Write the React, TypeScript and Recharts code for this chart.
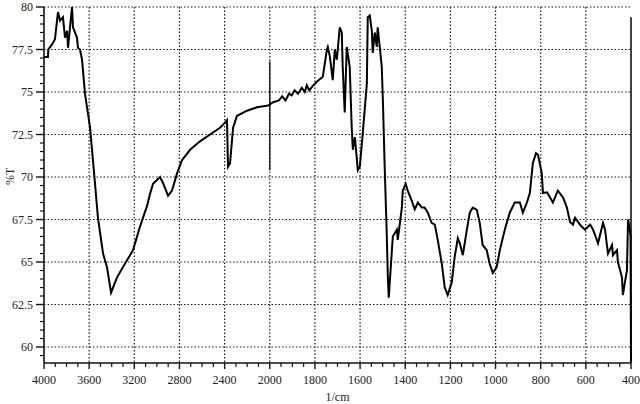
import React from 'react';
import { LineChart, Line, XAxis, YAxis, CartesianGrid, ReferenceLine } from 'recharts';

// IR spectrum (wavenumber in 1/cm, transmittance in %T)
const wavenumbers = [
  4000, 3965, 3962, 3929, 3903, 3876, 3858, 3832, 3814, 3796, 3787, 3752, 3743, 3708, 3699, 3681,
  3663, 3637, 3592, 3548, 3522, 3477, 3442, 3406, 3353, 3300, 3211, 3149, 3087, 3061, 3034, 2972,
  2946, 2901, 2866, 2822, 2777, 2706, 2618, 2529, 2441, 2396, 2379, 2370, 2352, 2325, 2290, 2201,
  2113, 2015, 1985, 1960, 1945, 1930, 1915, 1903, 1890, 1875, 1858, 1845, 1836, 1825, 1810, 1792,
  1765, 1747, 1743, 1734, 1721, 1712, 1703, 1690,
  1681, 1677, 1668, 1659, 1646, 1637, 1632, 1623, 1610, 1601, 1588, 1570, 1566, 1557, 1548, 1544,
  1535, 1526, 1522, 1513, 1504, 1499, 1491, 1482, 1477, 1473, 1460, 1455, 1437, 1433, 1415, 1411,
  1398, 1389, 1371, 1358, 1344, 1327, 1314, 1300, 1283, 1269, 1256, 1238, 1225, 1212, 1194, 1181,
  1167, 1158, 1145, 1127, 1114, 1101, 1083, 1070, 1057, 1039, 1026, 1012, 995, 981, 959, 937,
  915, 892, 879, 861, 848, 835, 821, 812, 795, 790, 772, 746, 724, 701, 684, 670,
  657, 648, 626, 604, 581, 568, 546, 524, 515, 502, 484, 480, 462, 458, 440, 436,
  427, 418, 413, 405, 402, 400,
];

const transmittance = [
  77.06, 77.06, 77.5, 77.8, 78.1, 79.7, 79.2, 79.4, 78.2, 78.6, 77.6, 80.0, 78.8, 78.2, 77.6, 77.5,
  76.9, 74.9, 72.9, 69.6, 67.6, 65.5, 64.7, 63.2, 64.1, 64.7, 65.7, 67.1, 68.3, 69.0, 69.6, 70.0,
  69.65, 68.9, 69.2, 70.2, 71.0, 71.6, 72.1, 72.5, 72.9, 73.2, 73.35, 70.6, 70.8, 72.9, 73.6, 73.9,
  74.1, 74.2, 74.4, 74.5, 74.75, 74.5, 74.9, 74.8, 75.1, 74.9, 75.25, 75.0, 75.4, 75.1, 75.35, 75.6,
  75.9, 77.5, 77.65, 77.1, 75.7, 77.5, 76.9, 78.8,
  78.5, 76.5, 73.8, 77.65, 76.5, 72.9, 71.6, 72.35, 70.4, 70.6, 72.6, 75.5, 79.4, 79.5, 78.6, 77.3,
  78.5, 77.65, 78.8, 77.65, 76.5, 74.5, 70.6, 66.7, 64.1, 62.9, 65.5, 66.5, 66.9, 66.3, 68.2, 69.2,
  69.6, 69.2, 68.6, 68.1, 68.5, 68.2, 68.2, 67.9, 67.3, 67.2, 66.3, 64.9, 63.5, 63.06, 63.8, 65.3,
  66.4, 66.1, 65.4, 66.9, 67.9, 68.2, 68.06, 67.3, 66.0, 65.7, 64.9, 64.35, 64.7, 65.7, 66.9, 67.9,
  68.5, 68.5, 67.9, 68.5, 69.06, 70.8, 71.4, 71.3, 70.2, 69.06, 69.1, 68.5, 69.2, 68.8, 68.2, 67.35,
  67.2, 67.6, 67.2, 66.9, 67.2, 66.9, 66.1, 67.3, 66.9, 65.5, 66.0, 65.4, 65.7, 65.0, 64.1, 63.06,
  63.8, 64.5, 67.5, 66.9, 66.5, 59.1,
];

const xTickLabels = [4000, 3600, 3200, 2800, 2400, 2000, 1800, 1600, 1400, 1200, 1000, 800, 600, 400];
const yTickLabels = [60, 62.5, 65, 67.5, 70, 72.5, 75, 77.5, 80];

// the instrument's axis changes scale at 2000 1/cm (left half compressed 2x)
const toPos = (wn: number) => (wn >= 2000 ? (4000 - wn) / 2 : 1000 + (2000 - wn));
const fromPos = (u: number) => (u <= 1000 ? 4000 - 2 * u : 2000 - (u - 1000));

const data = wavenumbers.map((wn, i) => ({ pos: toPos(wn), t: transmittance[i] }));

const xMajor = xTickLabels.map(toPos);
const xMinor: number[] = [];
for (let u = 0; u <= 2600; u += 50) xMinor.push(u);
const yMinor: number[] = [];
for (let v = 59.5; v <= 80; v += 0.5) yMinor.push(v);

const font = '"Liberation Serif", "DejaVu Serif", serif';

const XTick = ({ x, y, payload }: any) => {
  const major = xMajor.includes(payload.value);
  return (
    <g>
      <line x1={x} x2={x} y1={y} y2={y + (major ? 6 : 4)} stroke="#111" strokeWidth={major ? 1.4 : 1.2} />
      {major && (
        <text x={x} y={y + 21} textAnchor="middle" fontSize={12} fontFamily={font} fill="#222">
          {fromPos(payload.value)}
        </text>
      )}
    </g>
  );
};

const YTick = ({ x, y, payload }: any) => {
  const major = yTickLabels.some((v) => Math.abs(v - payload.value) < 0.01);
  return (
    <g>
      <line x1={x - (major ? 8 : 4)} x2={x} y1={y} y2={y} stroke="#111" strokeWidth={major ? 1.4 : 1.2} />
      {major && (
        <text x={x - 11} y={y + 4} textAnchor="end" fontSize={12} fontFamily={font} fill="#222">
          {payload.value}
        </text>
      )}
    </g>
  );
};

export default function App() {
  return (
    <div style={{ position: 'absolute', left: 0, top: 0, background: '#fff' }}>
      <LineChart width={640} height={404} data={data} margin={{ top: 7, right: 9, bottom: 0, left: 8 }}>
        <CartesianGrid
          stroke="#1a1a1a"
          strokeDasharray="1.5 2"
          strokeWidth={1.2}
          horizontalValues={yTickLabels}
          verticalValues={xMajor.slice(1, -1)}
        />
        <XAxis
          dataKey="pos"
          type="number"
          domain={[0, 2600]}
          ticks={xMinor}
          interval={0}
          height={41}
          tickSize={0}
          tickMargin={0}
          tickLine={false}
          tick={<XTick />}
          axisLine={{ stroke: '#111', strokeWidth: 1.6 }}
          label={{ value: '1/cm', position: 'insideBottom', offset: 3, fontSize: 12, fontFamily: font, fill: '#222' }}
        />
        <YAxis
          type="number"
          domain={[59.06, 80]}
          ticks={yMinor}
          interval={0}
          width={36}
          tickSize={0}
          tickMargin={0}
          tickLine={false}
          tick={<YTick />}
          axisLine={{ stroke: '#111', strokeWidth: 1.6 }}
          label={{ value: '%T', angle: -90, position: 'insideLeft', offset: 2, fontSize: 12, fontFamily: font, fill: '#222' }}
        />
        <ReferenceLine segment={[{ x: 1000, y: 76.8 }, { x: 1000, y: 70.4 }]} stroke="#111" strokeWidth={1.4} />
        <ReferenceLine segment={[{ x: 2600, y: 79.4 }, { x: 2600, y: 59.06 }]} stroke="#111" strokeWidth={1.6} />
        <Line
          type="linear"
          dataKey="t"
          stroke="#000"
          strokeWidth={2}
          dot={false}
          isAnimationActive={false}
        />
      </LineChart>
    </div>
  );
}
